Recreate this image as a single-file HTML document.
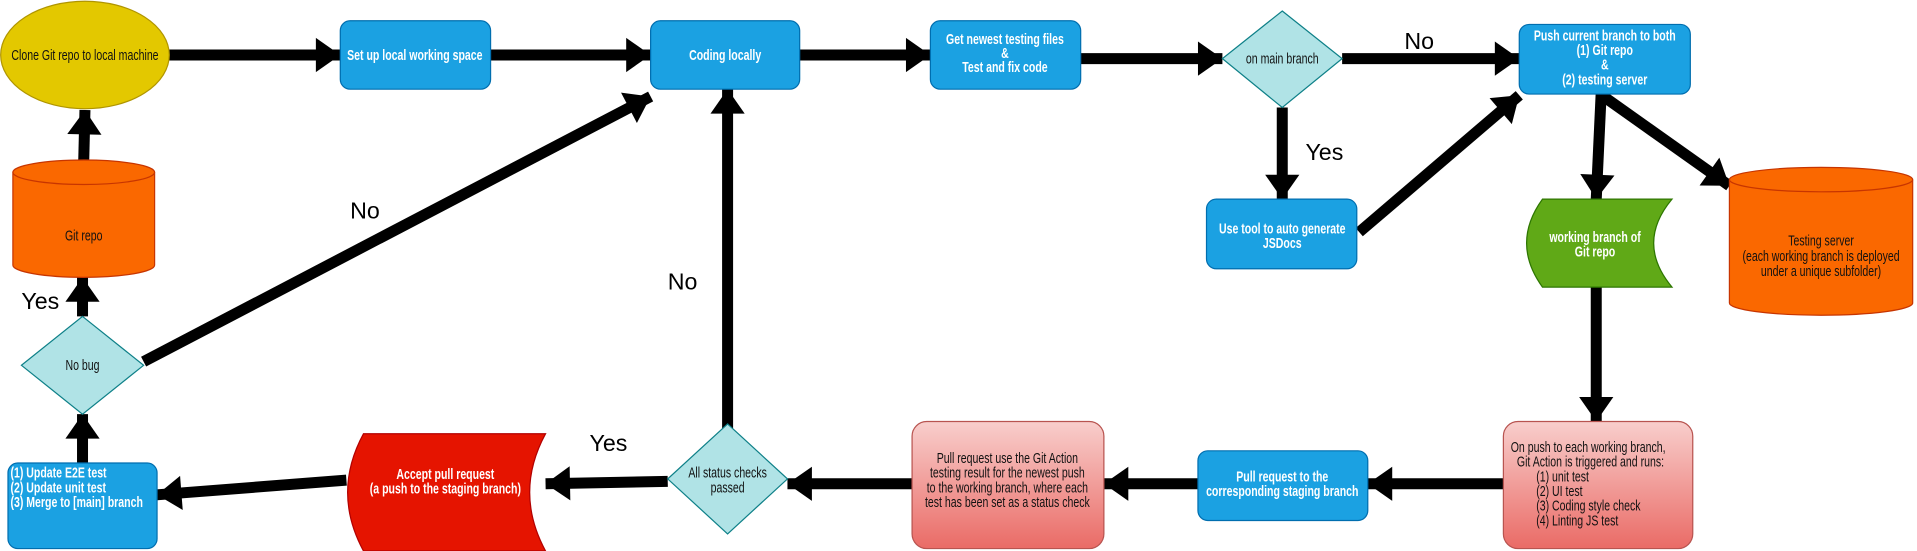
<!DOCTYPE html>
<html><head><meta charset="utf-8"><style>
html,body{margin:0;padding:0;background:#fff;}
svg{display:block;}
text{font-family:"Liberation Sans",Arial,sans-serif;}
.w{fill:#fff;font-weight:bold;font-size:12px;}
.b{fill:#111;font-size:12px;}
.l{fill:#000;font-size:19px;}
</style></head><body>
<svg width="1917" height="551" viewBox="0 0 1568 451" xmlns="http://www.w3.org/2000/svg">
<defs>
<marker id="a" markerUnits="userSpaceOnUse" markerWidth="24" markerHeight="30" refX="20" refY="14" orient="auto" overflow="visible">
<path d="M0,0 L20,14 L0,28 Z" fill="#000"/>
</marker>
<linearGradient id="pk" x1="0" y1="0" x2="0" y2="1"><stop offset="0" stop-color="#f8cecc"/><stop offset="1" stop-color="#ea6b66"/></linearGradient>
</defs>
<g stroke="#000" stroke-width="9" fill="none" marker-end="url(#a)">
<line x1="138" y1="45" x2="278" y2="45"/>
<line x1="401" y1="45" x2="532" y2="45"/>
<line x1="654" y1="45" x2="761" y2="45"/>
<line x1="884" y1="48" x2="1000" y2="48"/>
<line x1="1098" y1="48" x2="1243" y2="48"/>
<line x1="1049" y1="88" x2="1049" y2="163"/>
<line x1="1112" y1="190" x2="1243" y2="78"/>
<line x1="1310" y1="77" x2="1306" y2="163"/>
<line x1="1312" y1="79" x2="1415" y2="152"/>
<line x1="1306" y1="235" x2="1306" y2="345"/>
<line x1="1230" y1="396" x2="1119" y2="396"/>
<line x1="980" y1="396" x2="903" y2="396"/>
<line x1="746" y1="396" x2="644" y2="396"/>
<line x1="546" y1="394" x2="446" y2="396"/>
<line x1="595" y1="355" x2="595" y2="73"/>
<line x1="283" y1="393" x2="128" y2="405"/>
<line x1="67" y1="379" x2="67" y2="339"/>
<line x1="67" y1="259" x2="67" y2="227"/>
<line x1="68" y1="131" x2="69" y2="90"/>
<line x1="117" y1="296" x2="532" y2="79"/>
</g>
<ellipse cx="69" cy="45" rx="69" ry="44" fill="#e3c800" stroke="#b09500"/>
<g fill="#1ba1e2" stroke="#006eaf">
<rect x="278" y="17" width="123" height="56" rx="8"/>
<rect x="532" y="17" width="122" height="56" rx="8"/>
<rect x="761" y="17" width="123" height="56" rx="8"/>
<rect x="1243" y="20" width="140" height="57" rx="8"/>
<rect x="987" y="163" width="123" height="57" rx="8"/>
<rect x="980" y="369" width="139" height="57" rx="8"/>
<rect x="6" y="379" width="122" height="70" rx="8"/>
</g>
<g fill="#b0e3e6" stroke="#0e8088">
<path d="M1049,9 L1098,48 L1049,88 L1000,48 Z"/>
<path d="M67,259 L117,299 L67,339 L17,299 Z"/>
<path d="M595,347 L644,392 L595,437 L546,392 Z"/>
</g>
<path d="M1262,163 L1368,163 Q1338,199 1368,235 L1262,235 Q1236,199 1262,163 Z" fill="#60a917" stroke="#2d7600"/>
<path d="M297,355 L446,355 Q420,403 446,451 L297,451 Q271,403 297,355 Z" fill="#e51400" stroke="#b20000"/>
<g fill="#fa6800" stroke="#c73500">
<path d="M1415,147 L1415,248 A75,10 0 0 0 1565,248 L1565,147"/>
<ellipse cx="1490" cy="147" rx="75" ry="10"/>
<path d="M10,141 L10,217 A58,10 0 0 0 126,217 L126,141"/>
<ellipse cx="68" cy="141" rx="58" ry="10"/>
</g>
<rect x="746" y="345" width="157" height="104" rx="12" fill="url(#pk)" stroke="#b85450"/>
<rect x="1230" y="345" width="155" height="104" rx="12" fill="url(#pk)" stroke="#b85450"/>
<g text-anchor="middle">
<g transform="translate(69,49) scale(0.72,1)"><text class="b">Clone Git repo to local machine</text></g>
<g transform="translate(339,49) scale(0.72,1)"><text class="w">Set up local working space</text></g>
<g transform="translate(593,49) scale(0.72,1)"><text class="w">Coding locally</text></g>
<g transform="translate(822,36) scale(0.72,1)"><text class="w">Get newest testing files</text><text class="w" y="11.5">&amp;</text><text class="w" y="23">Test and fix code</text></g>
<g transform="translate(1049,52) scale(0.72,1)"><text class="b">on main branch</text></g>
<g transform="translate(1313,33) scale(0.72,1)"><text class="w">Push current branch to both</text><text class="w" y="12">(1) Git repo</text><text class="w" y="24">&amp;</text><text class="w" y="36">(2) testing server</text></g>
<g transform="translate(1049,191) scale(0.72,1)"><text class="w">Use tool to auto generate</text><text class="w" y="12">JSDocs</text></g>
<g transform="translate(1305,198) scale(0.72,1)"><text class="w">working branch of</text><text class="w" y="12">Git repo</text></g>
<g transform="translate(1490,201) scale(0.72,1)"><text class="b">Testing server</text><text class="b" y="12.5">(each working branch is deployed</text><text class="b" y="25">under a unique subfolder)</text></g>
<g transform="translate(68,197) scale(0.72,1)"><text class="b">Git repo</text></g>
<g transform="translate(67,303) scale(0.72,1)"><text class="b">No bug</text></g>
<g transform="translate(595,391) scale(0.72,1)"><text class="b">All  status checks</text><text class="b" y="12">passed</text></g>
<g transform="translate(364,392) scale(0.72,1)"><text class="w">Accept pull request</text><text class="w" y="12">(a push to the staging branch)</text></g>
<g transform="translate(824,379) scale(0.72,1)"><text class="b">Pull request use the Git Action</text><text class="b" y="12">testing result for the newest push</text><text class="b" y="24">to the working branch, where each</text><text class="b" y="36">test has been set as a status check</text></g>
<g transform="translate(1049,394) scale(0.72,1)"><text class="w">Pull request to the</text><text class="w" y="12">corresponding staging branch</text></g>
</g>
<g transform="translate(1236,0) scale(0.72,1)">
<text x="0" y="370" class="b">On push to each working branch,</text>
<text x="7" y="382" class="b">Git Action is triggered and runs:</text>
<text x="29" y="394" class="b">(1) unit test</text>
<text x="29" y="406" class="b">(2) UI test</text>
<text x="29" y="418" class="b">(3) Coding style check</text>
<text x="29" y="430" class="b">(4) Linting JS test</text>
</g>
<g transform="translate(8,391) scale(0.72,1)">
<text class="w" y="0">(1) Update E2E test</text>
<text class="w" y="12">(2) Update unit test</text>
<text class="w" y="24">(3) Merge to [main] branch</text>
</g>
<text class="l" x="1149" y="40">No</text>
<text class="l" x="1068" y="131">Yes</text>
<text class="l" x="286" y="179">No</text>
<text class="l" x="546" y="237">No</text>
<text class="l" x="17" y="253">Yes</text>
<text class="l" x="482" y="369">Yes</text>
</svg>
</body></html>
